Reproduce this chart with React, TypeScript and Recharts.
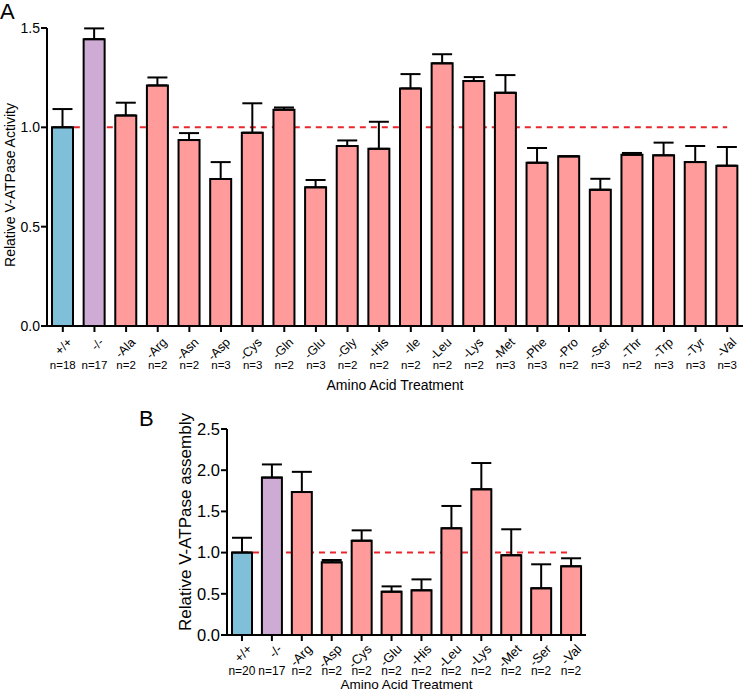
import { Bar, BarChart, Cell, ErrorBar, ReferenceLine, XAxis, YAxis } from "recharts";

// Panel A – V-ATPase activity
const catsA = ["+/+", "-/-", "-Ala", "-Arg", "-Asn", "-Asp", "-Cys", "-Gln", "-Glu", "-Gly", "-His", "-Ile", "-Leu", "-Lys", "-Met", "-Phe", "-Pro", "-Ser", "-Thr", "-Trp", "-Tyr", "-Val"];
const nA = [18, 17, 2, 2, 2, 3, 3, 2, 3, 2, 2, 2, 2, 2, 3, 3, 2, 3, 2, 3, 3, 3];
const valsA = [1.0, 1.444, 1.06, 1.211, 0.936, 0.74, 0.973, 1.089, 0.698, 0.906, 0.892, 1.196, 1.322, 1.233, 1.174, 0.822, 0.854, 0.686, 0.862, 0.859, 0.825, 0.807];
const errA = [0.092, 0.054, 0.064, 0.04, 0.035, 0.085, 0.148, 0.011, 0.037, 0.028, 0.136, 0.072, 0.046, 0.02, 0.089, 0.074, 0, 0.055, 0.009, 0.064, 0.081, 0.094];
const ticksA = [0, 0.5, 1.0, 1.5];

// Panel B – V-ATPase assembly
const catsB = ["+/+", "-/-", "-Arg", "-Asp", "-Cys", "-Glu", "-His", "-Leu", "-Lys", "-Met", "-Ser", "-Val"];
const nB = [20, 17, 2, 2, 2, 2, 2, 2, 2, 2, 2, 2];
const valsB = [1.0, 1.91, 1.735, 0.882, 1.145, 0.526, 0.542, 1.295, 1.768, 0.968, 0.567, 0.834];
const errB = [0.18, 0.16, 0.245, 0.028, 0.125, 0.064, 0.133, 0.271, 0.319, 0.315, 0.291, 0.097];
const ticksB = [0, 0.5, 1.0, 1.5, 2.0, 2.5];

const FONT = "'Liberation Sans', Arial, Helvetica, sans-serif";
const WT = "#7FBFDA";
const KO = "#CDABD5";
const AA = "#FF9B9B";

const colorFor = (i: number) => (i === 0 ? WT : i === 1 ? KO : AA);

const build = (cats: string[], vals: number[], errs: number[]) =>
  cats.map((c, i) => ({ name: c, value: vals[i], err: [0, errs[i]] }));

const dataA = build(catsA, valsA, errA);
const dataB = build(catsB, valsB, errB);

function makeTick(ns: number[], o: { dx: number; dy: number; fs: number; nfs: number; ny: number }) {
  return (props: any) => {
    const { x, y, payload } = props;
    const i = payload.index;
    return (
      <g>
        <text
          transform={`translate(${x + o.dx},${y + o.dy}) rotate(-45)`}
          textAnchor="end"
          fontSize={o.fs}
          fontFamily={FONT}
          fill="#000"
        >
          {payload.value}
        </text>
        <text x={x} y={y + o.ny} textAnchor="middle" fontSize={o.nfs} fontFamily={FONT} fill="#000">
          {`n=${ns[i]}`}
        </text>
      </g>
    );
  };
}

const tickA = makeTick(nA, { dx: 10, dy: 9, fs: 12.5, nfs: 11.5, ny: 35 });
const tickB = makeTick(nB, { dx: 11, dy: 7, fs: 13, nfs: 12, ny: 32 });

export default function App() {
  return (
    <div style={{ position: "absolute", left: 0, top: 0, width: 746, height: 691, background: "#fff", fontFamily: FONT }}>
      <div style={{ position: "absolute", left: 0, top: 1, fontSize: 22, lineHeight: "22px", color: "#000" }}>A</div>
      <div style={{ position: "absolute", left: 139, top: 408, fontSize: 22, lineHeight: "22px", color: "#000" }}>B</div>

      <div style={{ position: "absolute", left: 0, top: 0 }}>
        <BarChart width={746} height={400} data={dataA} margin={{ top: 28, right: 3, left: 0, bottom: 0 }}>
          <XAxis
            dataKey="name"
            height={74}
            interval={0}
            tick={tickA}
            tickSize={6}
            axisLine={{ stroke: "#000", strokeWidth: 2 }}
            tickLine={{ stroke: "#000", strokeWidth: 2 }}
            label={(p: any) => (
              <text
                x={p.viewBox.x + p.viewBox.width / 2}
                y={p.viewBox.y + 64}
                textAnchor="middle"
                fontSize={14}
                fontFamily={FONT}
                fill="#000"
              >
                Amino Acid Treatment
              </text>
            )}
          />
          <YAxis
            width={47}
            domain={[0, 1.5]}
            ticks={ticksA}
            tickFormatter={(v: number) => v.toFixed(1)}
            tickSize={6}
            tickMargin={1}
            tick={{ fontSize: 14, fontFamily: FONT, fill: "#000" }}
            axisLine={{ stroke: "#000", strokeWidth: 2 }}
            tickLine={{ stroke: "#000", strokeWidth: 2 }}
            label={(p: any) => (
              <text
                transform={`translate(15,${p.viewBox.y + p.viewBox.height / 2 + 8}) rotate(-90)`}
                textAnchor="middle"
                fontSize={14}
                fontFamily={FONT}
                fill="#000"
              >
                Relative V-ATPase Activity
              </text>
            )}
          />
          <ReferenceLine
            segment={[{ x: catsA[0], y: 1 }, { x: catsA[catsA.length - 1], y: 1 }]}
            stroke="#E8262B"
            strokeWidth={2}
            strokeDasharray="6 5"
            zIndex={-10}
          />
          <Bar dataKey="value" barSize={21} stroke="#000" strokeWidth={2} isAnimationActive={false}>
            {dataA.map((_, i) => (
              <Cell key={i} fill={colorFor(i)} />
            ))}
            <ErrorBar dataKey="err" direction="y" width={10} stroke="#000" strokeWidth={2} isAnimationActive={false} />
          </Bar>
        </BarChart>
      </div>

      <div style={{ position: "absolute", left: 0, top: 400 }}>
        <BarChart width={600} height={291} data={dataB} margin={{ top: 29, right: 14, left: 0, bottom: 0 }}>
          <XAxis
            dataKey="name"
            height={56}
            interval={0}
            tick={tickB}
            tickSize={6}
            axisLine={{ stroke: "#000", strokeWidth: 2 }}
            tickLine={{ stroke: "#000", strokeWidth: 2 }}
            label={(p: any) => (
              <text
                x={p.viewBox.x + p.viewBox.width / 2}
                y={p.viewBox.y + 54}
                textAnchor="middle"
                fontSize={13.5}
                fontFamily={FONT}
                fill="#000"
              >
                Amino Acid Treatment
              </text>
            )}
          />
          <YAxis
            width={227}
            domain={[0, 2.5]}
            ticks={ticksB}
            tickFormatter={(v: number) => v.toFixed(1)}
            tickSize={6}
            tickMargin={1}
            tick={{ fontSize: 16.5, fontFamily: FONT, fill: "#000" }}
            axisLine={{ stroke: "#000", strokeWidth: 2 }}
            tickLine={{ stroke: "#000", strokeWidth: 2 }}
            label={() => (
              <text
                transform={`translate(191,122) rotate(-90)`}
                textAnchor="middle"
                fontSize={17}
                fontFamily={FONT}
                fill="#000"
              >
                Relative V-ATPase assembly
              </text>
            )}
          />
          <ReferenceLine
            segment={[{ x: catsB[0], y: 1 }, { x: catsB[catsB.length - 1], y: 1 }]}
            stroke="#E8262B"
            strokeWidth={2}
            strokeDasharray="6 5"
            zIndex={-10}
          />
          <Bar dataKey="value" barSize={20} stroke="#000" strokeWidth={2} isAnimationActive={false}>
            {dataB.map((_, i) => (
              <Cell key={i} fill={colorFor(i)} />
            ))}
            <ErrorBar dataKey="err" direction="y" width={10} stroke="#000" strokeWidth={2} isAnimationActive={false} />
          </Bar>
        </BarChart>
      </div>
    </div>
  );
}
